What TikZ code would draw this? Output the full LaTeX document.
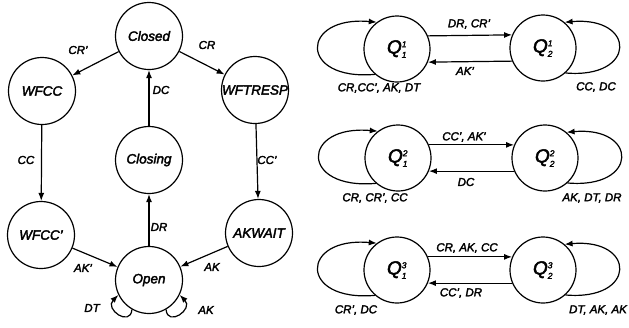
\documentclass[tikz,border=0pt]{standalone}
\usepackage{fontspec}
\setmainfont{Liberation Sans}[FakeBold=2.5]
\usetikzlibrary{arrows.meta}
% index label Q^{sup}_{sub} in italic sans
\newcommand\qlabel[2]{{\fontsize{19}{19}\selectfont\itshape Q$^{\mbox{\fontsize{8.5}{8.5}\selectfont\itshape #2}}_{\mbox{\fontsize{8.5}{8.5}\selectfont\itshape #1}}$}}
\begin{document}
\begin{tikzpicture}[x=1pt,y=1pt,
  state/.style={circle,draw,line width=1.2pt,minimum size=67pt,inner sep=0pt,
    font=\fontsize{13.5}{14}\selectfont\itshape},
  qstate/.style={circle,draw,line width=1.2pt,minimum size=66pt,inner sep=0pt},
  lbl/.style={font=\fontsize{11.5}{12}\selectfont\itshape,inner sep=0pt},
  arr/.style={line width=1.2pt,-{Latex[length=8pt,width=6pt]}},
  ]
\useasboundingbox (0,0) rectangle (629,-327);

% ---- connection-management machine ----
\node[state] (closed)  at (149,-36)  {Closed};
\node[state] (wfcc)    at (42,-91)   {WFCC};
\node[state] (wftresp) at (255,-90)  {WFTRESP};
\node[state] (closing) at (149,-160) {Closing};
\node[state] (wfccp)   at (41,-235)  {WFCC'};
\node[state] (akwait)  at (259,-233) {AKWAIT};
\node[state] (open)    at (149,-280) {Open};

\draw[arr] (closed) -- (wfcc);
\draw[arr] (closed) -- (wftresp);
\draw[arr] (closing) -- (closed);
\draw[arr] (wfcc) -- (wfccp);
\draw[arr] (wftresp) -- (akwait);
\draw[arr] (open) -- (closing);
\draw[arr] (wfccp) -- (open);
\draw[arr] (akwait) -- (open);
\draw[arr] (open.240) .. controls +(265:18) and +(225:20) .. (open.206);
\draw[arr] (open.300) .. controls +(275:18) and +(315:20) .. (open.334);

\node[lbl] (lcrp) at (78,-50)   {CR'};
\node[lbl] (lcr)  at (207,-45)  {CR};
\node[lbl] (ldc)  at (161,-90)  {DC};
\node[lbl] (lcc)  at (26,-160)  {CC};
\node[lbl] (lccp) at (267,-160) {CC'};
\node[lbl] (ldr)  at (159,-227) {DR};
\node[lbl] (lakp) at (83,-268)  {AK'};
\node[lbl] (lak)  at (212,-267) {AK};
\node[lbl] (ldt)  at (92,-308)  {DT};
\node[lbl] (lak2) at (206,-310) {AK};

% ---- two-state projections ----
\node[qstate] (q11) at (397,-49)  {\qlabel{1}{1}};
\node[qstate] (q21) at (543,-48)  {\qlabel{2}{1}};
\node[qstate] (q12) at (398,-158) {\qlabel{1}{2}};
\node[qstate] (q22) at (545,-158) {\qlabel{2}{2}};
\node[qstate] (q13) at (397,-270) {\qlabel{1}{3}};
\node[qstate] (q23) at (543,-270) {\qlabel{2}{3}};

\foreach \a/\b in {q11/q21,q12/q22,q13/q23}{
  \draw[arr] (\a.23) -- (\b.157);
  \draw[arr] (\b.203) -- (\a.337);
  \draw[arr] (\a.229) .. controls +(185:77) and +(175:77) .. (\a.127);
  \draw[arr] (\b.312) .. controls +(-5:72) and +(5:72) .. (\b.50);
}

\node[lbl] (r1a) at (469,-24)  {DR, CR'};
\node[lbl] (r1b) at (465,-71)  {AK'};
\node[lbl] (r1c) at (379,-88)  {CR,CC', AK, DT};
\node[lbl] (r1d) at (596,-87)  {CC, DC};
\node[lbl] (r2a) at (464,-137) {CC', AK'};
\node[lbl] (r2b) at (466,-182) {DC};
\node[lbl] (r2c) at (375,-198) {CR, CR', CC};
\node[lbl] (r2d) at (592,-198) {AK, DT, DR};
\node[lbl] (r3a) at (467,-248) {CR, AK, CC};
\node[lbl] (r3b) at (461,-293) {CC', DR};
\node[lbl] (r3c) at (356,-310) {CR', DC};
\node[lbl] (r3d) at (598,-310) {DT, AK, AK};
\end{tikzpicture}
\end{document}
